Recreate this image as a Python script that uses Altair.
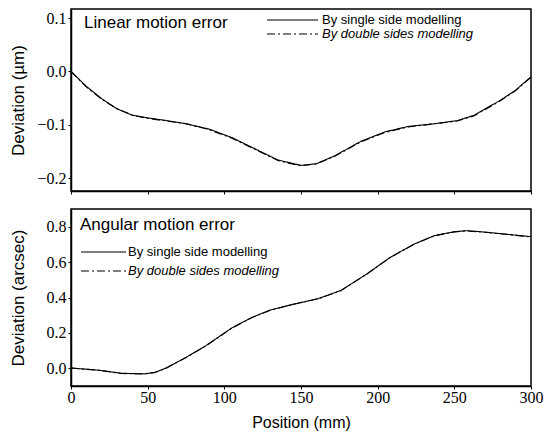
import altair as alt
import pandas as pd

series_names = ["By single side modelling", "By double sides modelling"]

lin_x = [0, 10, 20, 30, 40, 50, 60, 75, 90, 105, 120, 135, 150, 160, 172, 189, 205, 220, 237, 252, 263, 280, 290, 300]
lin_single = [0.0, -0.028, -0.051, -0.070, -0.082, -0.087, -0.091, -0.098, -0.108, -0.124, -0.145, -0.166, -0.176, -0.173, -0.158, -0.131, -0.113, -0.103, -0.098, -0.092, -0.082, -0.054, -0.035, -0.010]
lin_double = [0.0, -0.029, -0.052, -0.070, -0.082, -0.088, -0.092, -0.098, -0.109, -0.125, -0.146, -0.167, -0.177, -0.173, -0.159, -0.132, -0.114, -0.104, -0.098, -0.093, -0.083, -0.055, -0.036, -0.011]

ang_x = [0, 18, 33, 48, 55, 62, 75, 88, 105, 118, 130, 146, 161, 176, 193, 208, 224, 237, 250, 258, 270, 285, 300]
ang_single = [0.0, -0.012, -0.030, -0.033, -0.024, 0.000, 0.060, 0.127, 0.228, 0.287, 0.329, 0.364, 0.393, 0.440, 0.534, 0.627, 0.704, 0.751, 0.773, 0.779, 0.771, 0.758, 0.745]
ang_double = [0.0, -0.013, -0.031, -0.034, -0.025, -0.001, 0.059, 0.126, 0.227, 0.286, 0.328, 0.363, 0.392, 0.439, 0.533, 0.626, 0.703, 0.750, 0.772, 0.778, 0.770, 0.757, 0.744]

x_ticks = [0, 50, 100, 150, 200, 250, 300]
lin_ticks = [0.1, 0.0, -0.1, -0.2]
ang_ticks = [0.0, 0.2, 0.4, 0.6, 0.8]


def long(xs, a, b):
    rows = []
    for xv, yv in zip(xs, a):
        rows.append({"x": xv, "y": yv, "series": series_names[0]})
    for xv, yv in zip(xs, b):
        rows.append({"x": xv, "y": yv, "series": series_names[1]})
    return pd.DataFrame(rows)


lin_df = long(lin_x, lin_single, lin_double)
ang_df = long(ang_x, ang_single, ang_double)
leg_df = pd.DataFrame({"series": series_names})

W = 460
sans = "Liberation Sans"
serif = "Liberation Serif"
dash_scale = alt.Scale(domain=series_names, range=[[1, 0], [8, 3, 2, 3]])
italic_expr = "datum.series == 'By double sides modelling' ? 'italic' : 'normal'"


def panel(df, ydomain, yticks, ytitle, label, show_x, h, tx, ty, lx0, lx1, ltx, rows):
    xaxis = alt.Axis(values=x_ticks, labels=show_x, title="Position  (mm)" if show_x else None,
                     grid=False, tickSize=3, labelFlush=False, labelFont=serif, labelFontSize=16,
                     labelPadding=0, titlePadding=9, titleFont=sans, titleFontSize=16)
    line = alt.Chart(df).mark_line(color="black", strokeWidth=1.1).encode(
        x=alt.X("x:Q", scale=alt.Scale(domain=[0, 300], nice=False), axis=xaxis),
        y=alt.Y("y:Q", scale=alt.Scale(domain=ydomain, nice=False, zero=False),
                axis=alt.Axis(values=yticks, title=ytitle, grid=False, tickSize=3,
                              format=".1f", titleX=-44, labelFlush=False, labelFont=serif,
                              labelFontSize=16, labelPadding=2, titleFont=sans, titleFontSize=17)),
        strokeDash=alt.StrokeDash("series:N", scale=dash_scale, legend=None),
    )
    leg_y = alt.Y("series:N", scale=alt.Scale(type="point", domain=series_names, range=rows,
                                              padding=0), axis=None)
    leg_rule = alt.Chart(leg_df).mark_rule(color="black", strokeWidth=1.1).encode(
        x=alt.value(lx0), x2=alt.value(lx1), y=leg_y,
        strokeDash=alt.StrokeDash("series:N", scale=dash_scale, legend=None),
    )
    leg_text = alt.Chart(leg_df).mark_text(
        align="left", baseline="middle", font=sans, fontSize=13, color="black",
        fontStyle=alt.ExprRef(expr=italic_expr)
    ).encode(x=alt.value(ltx), y=leg_y, text="series:N")
    txt = alt.Chart(pd.DataFrame({"t": [label]})).mark_text(
        align="left", baseline="middle", font=sans, fontSize=17, color="black"
    ).encode(text="t:N", x=alt.value(tx), y=alt.value(ty))
    return alt.layer(line, leg_rule, leg_text, txt).resolve_scale(y="independent").properties(
        width=W, height=h)


top = panel(lin_df, [-0.224, 0.117], lin_ticks, "Deviation  (\u00b5m)", "Linear motion error",
            False, 182, 13, 14, 196, 247, 251, [11, 25])
bottom = panel(ang_df, [-0.102, 0.902], ang_ticks, "Deviation  (arcsec)", "Angular motion error",
               True, 177, 9, 16, 10, 55, 57, [43, 62])

chart = alt.vconcat(top, bottom, spacing=12).properties(
    padding={"left": 0, "top": 0, "right": 0, "bottom": 0}
).configure(
    font=serif
).configure_view(
    stroke="black", strokeWidth=1.5
).configure_axis(
    domainColor="black", domainWidth=1.5, tickColor="black", labelColor="black",
    labelFont=serif, titleFontWeight="normal", titleColor="black"
)

chart.save("out.html", embed_options={"renderer": "svg", "actions": False})
